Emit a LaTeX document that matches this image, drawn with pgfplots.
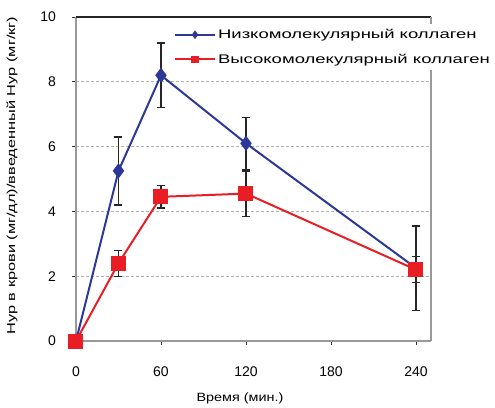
\documentclass[border=0pt]{standalone}
\usepackage{pgfplots}
\pgfplotsset{compat=1.18}
\usepackage{fontspec}
\setmainfont{Liberation Sans}
\definecolor{cblue}{RGB}{44,56,150}
\definecolor{cred}{RGB}{232,30,36}
\newcommand{\wide}[1]{\scalebox{1.42}[1]{#1}}
\begin{document}
\begin{tikzpicture}
\begin{axis}[
  scale only axis, width=355pt, height=324pt,
  xmin=0, xmax=250.6, ymin=0, ymax=10,
  xtick={0,60,120,180,240}, ytick={0,2,4,6,8,10},
  ymajorgrids, grid style={densely dashed, gray!60, line width=0.8pt},
  axis x line*=bottom, axis y line*=left,
  axis line style={gray!80, line width=1.8pt},
  tick style={black!80, line width=0.8pt}, tick align=outside,
  major tick length=3.5pt,
  ticklabel style={font=\fontsize{14}{14}\selectfont},
  yticklabel style={xshift=-13pt},
  xticklabel style={yshift=-19pt},
  /pgf/number format/assume math mode=true,
  xlabel={\scalebox{1.2}[1]{Время (мин.)}},
  xlabel style={font=\fontsize{12}{12}\selectfont, at={(axis description cs:0.462,-0.176)}, anchor=center},
  ylabel={\wide{Hyp в крови (мг/дл)/введенный Hyp (мг/кг)}},
  ylabel style={font=\fontsize{11.5}{11.5}\selectfont, at={(axis description cs:-0.18,0.51)}, anchor=center},
  clip=false,
  legend style={at={(axis description cs:0.27,0.978)}, anchor=north west, draw=none, fill=white,
    font=\fontsize{12.5}{12.5}\selectfont, row sep=10pt, inner xsep=2pt, inner ysep=3pt},
  legend cell align=left,
  legend image code/.code={\draw[mark repeat=2,mark phase=2,mark options={scale=0.45}] plot coordinates {(0pt,0pt)(20pt,0pt)(40pt,0pt)};},
  error bars/error bar style={black!85, line width=1.4pt},
  error bars/error mark options={rotate=90, mark size=4pt, line width=1.4pt},
]
\draw[black!85, line width=1.2pt] (axis cs:0,10) -- (axis cs:250.6,10);
\draw[gray!80, line width=1.8pt] (axis cs:250.6,0) -- (axis cs:250.6,10);
\addplot[cblue, line width=2pt, mark=diamond*, mark size=6pt,
  error bars/.cd, y dir=both, y explicit]
  coordinates {(0,0) +- (0,0) (30,5.25) +- (0,1.05) (60,8.2) +- (0,1.0) (120,6.1) +- (0,0.8) (240,2.25) +- (0,1.3)};
\addlegendentry{\scalebox{1.48}[1]{Низкомолекулярный коллаген}}
\addplot[cred, line width=2pt, mark=square*, mark size=6.5pt,
  error bars/.cd, y dir=both, y explicit]
  coordinates {(0,0) +- (0,0) (30,2.4) +- (0,0.4) (60,4.45) +- (0,0.35) (120,4.55) +- (0,0.7) (240,2.2) +- (0,0.4)};
\addlegendentry{\scalebox{1.48}[1]{Высокомолекулярный коллаген}}
\end{axis}
\pgfresetboundingbox
\path[use as bounding box] (-76pt,-66pt) rectangle (419pt,341pt);
\end{tikzpicture}
\end{document}
